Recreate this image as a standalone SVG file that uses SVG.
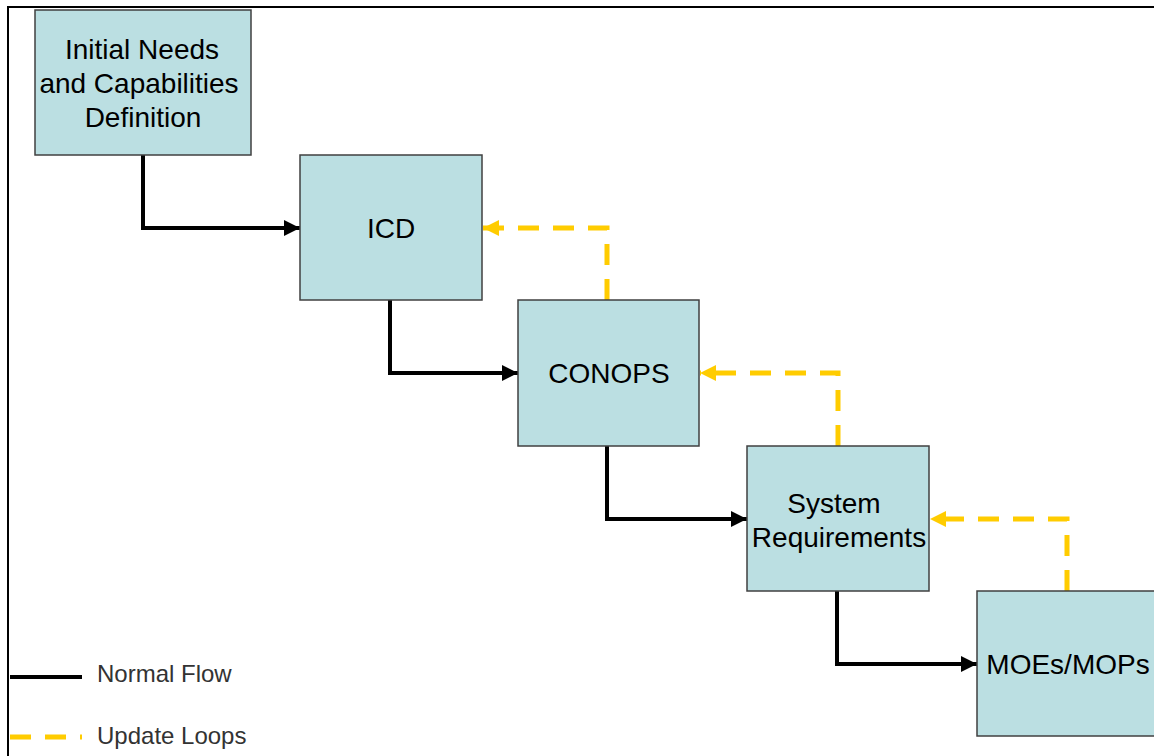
<svg xmlns="http://www.w3.org/2000/svg" width="1154" height="756" viewBox="0 0 1154 756">
  <style>
    .box { fill: #BBDFE2; stroke: #404040; stroke-width: 1.5; }
    .label { font-family: "Liberation Sans", Arial, sans-serif; font-size: 28px; fill: #000; text-anchor: middle; }
    .flow { fill: none; stroke: #000; stroke-width: 4; marker-end: url(#arrowBlack); }
    .loop { fill: none; stroke: #FFCC00; stroke-width: 5; stroke-dasharray: 21 14; marker-end: url(#arrowYellow); }
    .legend { font-family: "Liberation Sans", Arial, sans-serif; font-size: 24px; fill: #333; }
  </style>
  <defs>
    <marker id="arrowBlack" viewBox="0 0 10 10" refX="10" refY="5" markerWidth="4.2" markerHeight="4" markerUnits="strokeWidth" orient="auto">
      <path d="M0,0 L10,5 L0,10 z" fill="#000"/>
    </marker>
    <marker id="arrowYellow" viewBox="0 0 10 10" refX="10" refY="5" markerWidth="3.4" markerHeight="3.2" markerUnits="strokeWidth" orient="auto">
      <path d="M0,0 L10,5 L0,10 z" fill="#FFCC00"/>
    </marker>
  </defs>

  <rect width="1154" height="756" fill="#fff"/>
  <!-- outer frame -->
  <path d="M8,756 V7 H1154" fill="none" stroke="#000" stroke-width="2"/>

  <!-- connectors -->
  <g id="connectors">
    <path class="flow" d="M143,155 V228 H300"/>
    <path class="flow" d="M390,300 V373 H518"/>
    <path class="flow" d="M607,446 V519 H747"/>
    <path class="flow" d="M837,591 V664 H977"/>
    <path class="loop" d="M607,300 V228 H483"/>
    <path class="loop" d="M838,446 V373 H700"/>
    <path class="loop" d="M1067,591 V519 H930"/>
  </g>

  <g id="node-initial-needs">
    <rect class="box" x="35" y="10" width="216" height="145"/>
    <text class="label" x="142" y="59">Initial Needs</text>
    <text class="label" x="139" y="93">and Capabilities</text>
    <text class="label" x="143" y="127">Definition</text>
  </g>
  <g id="node-icd">
    <rect class="box" x="300" y="155" width="182" height="145"/>
    <text class="label" x="391" y="238">ICD</text>
  </g>
  <g id="node-conops">
    <rect class="box" x="518" y="300" width="181" height="146"/>
    <text class="label" x="609" y="383">CONOPS</text>
  </g>
  <g id="node-system-requirements">
    <rect class="box" x="747" y="446" width="182" height="145"/>
    <text class="label" x="834" y="513">System</text>
    <text class="label" x="839" y="547">Requirements</text>
  </g>
  <g id="node-moes-mops">
    <rect class="box" x="977" y="591" width="190" height="145"/>
    <text class="label" x="1068" y="674">MOEs/MOPs</text>
  </g>

  <g id="legend">
    <line x1="10" y1="677" x2="82" y2="677" stroke="#000" stroke-width="4"/>
    <text class="legend" x="97" y="682">Normal Flow</text>
    <line x1="10" y1="737" x2="82" y2="737" stroke="#FFCC00" stroke-width="5" stroke-dasharray="21 14"/>
    <text class="legend" x="97" y="744">Update Loops</text>
  </g>
</svg>
